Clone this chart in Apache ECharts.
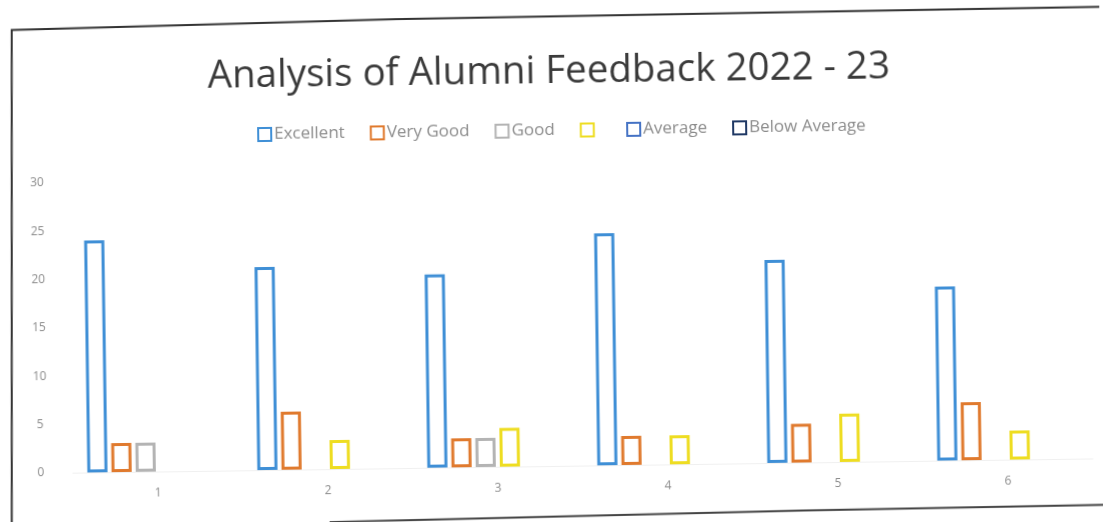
<!DOCTYPE html>
<html>
<head>
<meta charset="utf-8">
<script src="https://cdn.jsdelivr.net/npm/echarts@6/dist/echarts.min.js"></script>
<style>
html,body{margin:0;padding:0;background:#ffffff;overflow:hidden;}
#chart{width:1103px;height:522px;transform:rotate(-0.8deg);transform-origin:551.5px 261px;}
</style>
</head>
<body>
<div id="chart"></div>
<script>
const categories = ['1', '2', '3', '4', '5', '6'];
const seriesNames = ['Excellent', 'Very Good', 'Good', ' ', 'Average', 'Below Average'];
const excellent = [24, 21, 20, 24, 21, 18];
const veryGood = [3, 6, 3, 3, 4, 6];
const good = [3, 0, 3, 0, 0, 0];
const unnamed = [0, 3, 4, 3, 5, 3];
const average = [0, 0, 0, 0, 0, 0];
const belowAverage = [0, 0, 0, 0, 0, 0];
const yTicks = [0, 5, 10, 15, 20, 25, 30];

const seriesValues = [excellent, veryGood, good, unnamed, average, belowAverage];
const colors = ['#3f8fd6', '#e07a2e', '#b4b4b4', '#eedd22', '#4472c4', '#1f3864'];

const chart = echarts.init(document.getElementById('chart'));
chart.setOption({
  backgroundColor: '#ffffff',
  animation: false,
  title: {
    text: 'Analysis of Alumni Feedback 2022 - 23',
    left: 'center',
    top: 48,
    textStyle: { fontFamily: 'Open Sans', fontSize: 38.5, fontWeight: 'normal', color: '#3a3a3a' }
  },
  legend: {
    top: 117,
    left: 254,
    icon: 'rect',
    itemWidth: 13,
    itemHeight: 13,
    itemGap: 25,
    data: seriesNames,
    textStyle: { fontFamily: 'Open Sans', fontSize: 17, color: '#8c8c8c', padding: [0, 0, 0, -2] }
  },
  grid: { left: 70, right: 13, top: 176, bottom: 56 },
  xAxis: {
    type: 'category',
    data: categories,
    axisLine: { show: true, lineStyle: { color: '#f0f0f0' } },
    axisTick: { show: false },
    axisLabel: { color: '#8c8c8c', fontFamily: 'Open Sans', fontSize: 12, margin: 16 }
  },
  yAxis: {
    type: 'value',
    min: yTicks[0],
    max: yTicks[yTicks.length - 1],
    interval: yTicks[1] - yTicks[0],
    axisLine: { show: false },
    axisTick: { show: false },
    splitLine: { show: false },
    axisLabel: { color: '#8c8c8c', fontFamily: 'Open Sans', fontSize: 12, margin: 32, align: 'center' }
  },
  series: seriesNames.map((name, i) => ({
    name: name,
    type: 'bar',
    barGap: '20%',
    barCategoryGap: '17%',
    data: seriesValues[i].map(v => (v === 0 ? '-' : v)),
    itemStyle: { color: 'rgba(255,255,255,0)', borderColor: colors[i], borderWidth: 3 }
  })),
  graphic: [
    { type: 'polyline', silent: true, shape: { points: [[7, 600], [15, 22.5], [400, 17], [800, 15.5], [1115, 14.5]] }, style: { stroke: '#333', lineWidth: 2, fill: null } },
    { type: 'polyline', silent: true, shape: { points: [[326, 519], [800, 514], [1115, 512.5]] }, style: { stroke: '#444', lineWidth: 2, fill: null } }
  ]
});
</script>
</body>
</html>
